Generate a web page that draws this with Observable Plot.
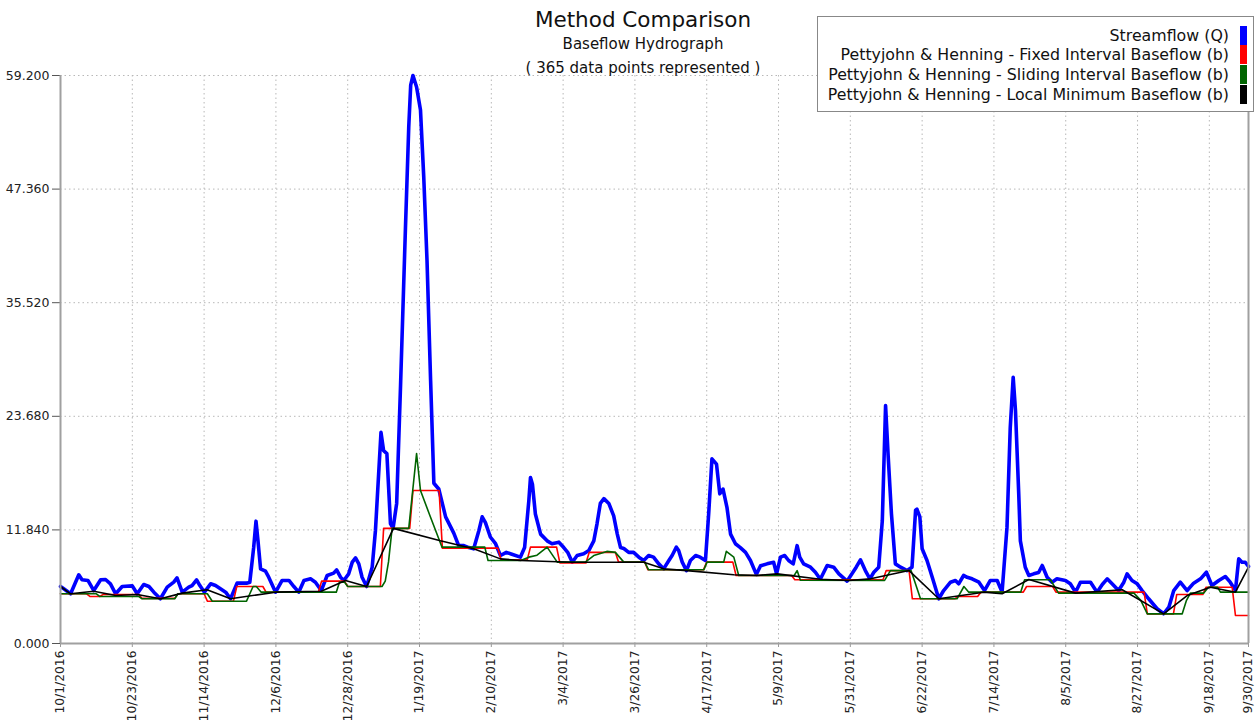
<!DOCTYPE html>
<html><head><meta charset="utf-8">
<script src="https://cdn.jsdelivr.net/npm/d3@7"></script>
<script src="https://cdn.jsdelivr.net/npm/@observablehq/plot@0.6"></script>
<style>
body{margin:0;background:#fff;font-family:"DejaVu Sans",sans-serif;}
#wrap{position:relative;width:1259px;height:720px;overflow:hidden;}
.t{position:absolute;left:0;width:1286px;text-align:center;color:#111;white-space:pre;line-height:1;}
#legend{position:absolute;left:817px;top:16px;width:437px;height:96px;border:1px solid #888;background:#fff;box-sizing:border-box;}
.row{position:absolute;right:0;height:20px;display:flex;align-items:center;}
.row span{font-size:15.8px;color:#111;margin-right:11px;white-space:nowrap;}
.row i{display:block;width:7px;height:19px;margin-right:6px;}
</style></head><body>
<div id="wrap"></div>
<script>
// ---- data (days since 10/1/2016) ----
const title = "Method Comparison";
const subtitle = "Baseflow Hydrograph";
const note = "( 365 data points represented )";
const seriesNames = ["Streamflow (Q)",
  "Pettyjohn & Henning - Fixed Interval Baseflow (b)",
  "Pettyjohn & Henning - Sliding Interval Baseflow (b)",
  "Pettyjohn & Henning - Local Minimum Baseflow (b)"];
const seriesColors = ["#0000ff", "#ff0000", "#006400", "#000000"];

const yTicks = [0, 11.84, 23.68, 35.52, 47.36, 59.2];
const xTickDays = [0, 22, 44, 66, 88, 110, 132, 154, 176, 198, 220, 242, 264, 286, 308, 330, 352, 364];
const xTickLabels = ["10/1/2016", "10/23/2016", "11/14/2016", "12/6/2016", "12/28/2016", "1/19/2017",
  "2/10/2017", "3/4/2017", "3/26/2017", "4/17/2017", "5/9/2017", "5/31/2017", "6/22/2017",
  "7/14/2017", "8/5/2017", "8/27/2017", "9/18/2017", "9/30/2017"];

const qDay = [0, 1, 3.1, 5.6, 6.6, 8.4, 10.2, 12.3, 13.8, 15.3, 16.9, 18.9, 22, 23.5, 25.5, 27.1, 28.6, 30.6,
  32.7, 34.7, 35.7, 37.3, 39.3, 40.3, 41.7, 42.7, 44.1, 46, 47.5, 49, 50.6, 52.1, 54.1, 57.2, 58, 59.2, 59.9,
  60.5, 61.3, 62.8, 63.8, 65.9, 67.9, 70, 71.5, 73, 74.6, 76.6, 78.1, 79.9, 81.7, 83.7, 84.6, 85.8, 86.8,
  88.3, 89.4, 90.4, 91.4, 92.4, 93.8, 95.5, 96.5, 98.2, 99, 100, 101.1, 101.9, 103, 104.2, 105.7, 106.7,
  107.3, 108, 109.1, 110.3, 111.3, 112.3, 113.4, 114.4, 115.9, 118, 120.5, 122, 123.6, 125.1, 126.6, 128.2,
  129.2, 130.2, 131.7, 133.3, 134.8, 136.6, 138.3, 140.9, 142.2, 143.5, 144, 144.6, 145.5, 147.1, 149.1,
  150.6, 152.7, 154.2, 155.4, 156.8, 158.3, 160.3, 161.9, 163.4, 164.4, 165.4, 166.5, 168, 169.5, 170.6,
  171.6, 172.6, 174.1, 175.6, 177.2, 178.7, 180.2, 181.7, 183.3, 184.8, 186.4, 187.4, 188.7, 189.4, 190.5,
  191.8, 193, 194.6, 196, 197.6, 198.6, 199.6, 201, 202, 203, 204.2, 205.3, 206.8, 208.3, 209.9, 211.4,
  213.2, 214.5, 216.5, 218.5, 219.4, 220.6, 221.9, 223.1, 224.5, 225.7, 226.5, 227.7, 229.8, 231.3, 232.8,
  234.9, 236.9, 238.5, 241, 242.5, 243.8, 245.1, 246.6, 248, 249.2, 250.7, 251.8, 252.8, 253.6, 254.6,
  255.8, 257.4, 259.4, 260.9, 262, 262.4, 263.3, 264, 265.5, 267.1, 269.1, 270.6, 272.7, 274.2, 275.2,
  276.7, 277.8, 279.3, 281.4, 283.1, 284.9, 287, 288.5, 290, 291, 291.9, 292.6, 293.6, 294.1, 295.6, 296.7,
  298.2, 299.7, 300.8, 302.3, 303.8, 305.3, 307.9, 309.4, 311, 312.5, 315.6, 317.6, 319.2, 320.7, 322.2,
  324.2, 325.8, 326.8, 328.3, 329.9, 331.4, 333.4, 336, 338, 339.6, 341.1, 343.1, 345.2, 347.2, 349.3,
  351.1, 352.8, 354.9, 356.9, 358.4, 360, 361, 362, 363, 364];
const qVal = [5.94, 5.7, 5.18, 7.16, 6.64, 6.57, 5.52, 6.64, 6.67, 6.22, 5.18, 5.94, 6.01, 5.18, 6.15, 5.94,
  5.35, 4.66, 5.87, 6.39, 6.84, 5.35, 5.87, 6.04, 6.64, 6.04, 5.35, 6.22, 6.04, 5.7, 5.35, 4.66, 6.29, 6.29,
  6.39, 10.04, 12.75, 10.73, 7.78, 7.54, 6.91, 5.35, 6.57, 6.57, 5.94, 5.35, 6.57, 6.74, 6.39, 5.52, 7.09,
  7.33, 7.68, 6.91, 6.57, 7.26, 8.48, 8.93, 8.3, 6.91, 5.94, 7.96, 11.78, 22.0, 20.1, 19.8, 12.5, 12.0, 14.6,
  27.0, 43.4, 53.8, 58.2, 59.2, 58.0, 55.6, 48.6, 39.9, 27.4, 16.7, 16.1, 13.2, 11.5, 10.2, 10.2, 10.0,
  9.87, 11.78, 13.2, 12.6, 11.1, 10.4, 9.17, 9.5, 9.3, 9.0, 10.0, 14.9, 17.3, 16.6, 13.5, 11.4, 10.7, 10.4,
  10.56, 10.0, 9.5, 8.47, 9.17, 9.35, 9.7, 10.7, 12.5, 14.6, 15.1, 14.6, 13.3, 11.4, 10.0, 9.9, 9.5, 9.5,
  9.0, 8.65, 9.17, 9.0, 8.3, 7.78, 8.65, 9.17, 10.04, 9.7, 8.48, 7.6, 8.65, 9.17, 9.0, 8.65, 13.5, 19.25,
  18.7, 15.6, 16.1, 14.2, 11.4, 10.4, 10.0, 9.5, 8.65, 7.2, 8.1, 8.3, 8.47, 7.26, 9.0, 9.17, 8.65, 8.3,
  10.2, 9.0, 8.3, 7.95, 7.43, 6.7, 8.13, 7.95, 7.26, 6.5, 7.26, 7.95, 8.72, 7.6, 6.74, 7.43, 7.95, 12.8,
  24.8, 19.5, 13.5, 8.3, 7.95, 7.6, 7.95, 13.9, 14.0, 13.2, 9.87, 8.65, 6.91, 4.66, 5.52, 6.39, 6.57, 6.22,
  7.09, 6.9, 6.74, 6.39, 5.52, 6.57, 6.57, 5.35, 12.1, 22.5, 27.75, 24.3, 15.6, 10.7, 7.95, 7.09, 7.26, 7.4,
  8.13, 6.91, 6.39, 6.74, 6.57, 6.22, 5.35, 6.39, 6.39, 5.35, 6.15, 6.74, 6.22, 5.52, 6.39, 7.26, 6.57,
  6.22, 5.52, 4.66, 3.62, 3.1, 3.79, 5.52, 6.39, 5.52, 6.29, 6.74, 7.43, 6.04, 6.57, 6.98, 6.39, 5.52,
  8.82, 8.47, 8.47, 8.03];

const fixDay = [0, 8, 9, 12, 13, 24, 25, 35, 36, 44, 45, 53, 54, 62, 63, 79, 80, 87, 88, 98, 99, 107, 108,
  116, 117, 134, 135, 143, 144, 152, 153, 161, 162, 170, 171, 179, 180, 197, 198, 206, 207, 224, 225, 252,
  253, 260, 261, 274, 275, 281, 282, 295, 296, 304, 305, 332, 333, 341, 342, 350, 351, 359, 360, 364];
const fixVal = [5.18, 5.18, 4.9, 4.9, 5.1, 5.1, 4.7, 4.7, 5.18, 5.18, 4.41, 4.41, 5.94, 5.94, 5.35, 5.35,
  6.5, 6.5, 5.94, 5.94, 12.0, 12.0, 15.95, 15.95, 9.94, 9.94, 8.72, 8.72, 10.04, 10.04, 8.4, 8.4, 9.5, 9.5,
  8.48, 8.48, 7.68, 7.68, 8.48, 8.48, 7.09, 7.09, 6.64, 6.64, 7.6, 7.6, 4.66, 4.66, 4.9, 4.9, 5.35, 5.35,
  5.94, 5.94, 5.35, 5.35, 3.09, 3.09, 5.1, 5.1, 5.87, 5.87, 2.92, 2.92];

const slideDay = [0, 11, 12, 24, 25, 35, 36, 45, 46.5, 57, 59, 60, 61.5, 84.5, 85.5, 87, 88, 98.5, 99.5,
  100.5, 101.6, 106.7, 109.1, 110.3, 113, 116.9, 130, 131, 141, 143.5, 146, 149.1, 152.2, 160.8, 163.4,
  167.4, 170, 172.6, 179, 180.2, 197.1, 198.1, 203.2, 204, 206.3, 207.8, 224.8, 225.7, 226.7, 252.5, 254.3,
  260.6, 263.5, 274.7, 276.8, 278.3, 294.2, 295.4, 303.3, 305.8, 328.9, 331, 333, 343.7, 345, 346.2, 350.3,
  351.7, 354.5, 355.4, 364];
const slideVal = [5.18, 5.18, 4.9, 4.9, 4.66, 4.66, 5.18, 5.18, 4.41, 4.41, 5.94, 5.94, 5.35, 5.35, 6.4,
  6.4, 5.94, 5.94, 6.5, 8.5, 12.0, 12.0, 19.8, 15.95, 13.5, 10.04, 10.04, 8.65, 8.65, 9.0, 9.2, 10.04, 8.48,
  8.48, 9.17, 9.6, 9.5, 8.48, 8.48, 7.68, 7.68, 8.48, 8.48, 9.6, 9.0, 7.09, 7.09, 7.6, 6.6, 6.57, 7.6, 7.6,
  4.66, 4.66, 5.94, 5.35, 5.35, 6.64, 6.64, 5.25, 5.25, 4.5, 3.09, 3.09, 4.5, 5.25, 5.25, 5.87, 5.87, 5.35,
  5.35];

const minDay = [0, 3.1, 10.2, 16.9, 23.5, 30.6, 37.3, 44.9, 52.1, 65.9, 79.9, 87.3, 93.8, 102, 116.4, 126.6,
  134.8, 140.9, 156.8, 178.7, 184.8, 191.9, 206.3, 213.4, 219.6, 232.8, 241.5, 248.2, 260, 269.1, 282.9,
  288.5, 296.7, 311, 325.3, 338, 345.2, 352.3, 360, 364];
const minVal = [5.94, 5.18, 5.45, 5.0, 5.1, 4.66, 5.25, 5.6, 4.66, 5.35, 5.45, 6.57, 5.94, 12.0, 10.7, 9.87,
  8.82, 8.65, 8.47, 8.47, 7.78, 7.6, 7.16, 7.09, 7.26, 6.7, 6.57, 6.74, 7.6, 4.66, 5.35, 5.18, 6.67, 5.25,
  5.6, 3.09, 5.0, 5.87, 5.35, 7.96];

// ---- build ----
const seriesDays = [qDay, fixDay, slideDay, minDay];
const seriesVals = [qVal, fixVal, slideVal, minVal];
const widths = [3.6, 1.6, 1.6, 1.6];

const wrap = document.getElementById("wrap");
const gridStyle = {stroke: "#b8b8b8", strokeOpacity: 1, strokeDasharray: "1.5,3", strokeWidth: 1};
const lineMarks = seriesDays.map((days, k) =>
  Plot.line(days.map((d, i) => ({d, v: seriesVals[k][i]})),
    {x: "d", y: "v", stroke: seriesColors[k], strokeWidth: widths[k], strokeLinejoin: "round", strokeLinecap: "round"}));

const chart = Plot.plot({
  width: 1259, height: 720,
  marginTop: 75, marginLeft: 60, marginRight: 11, marginBottom: 77,
  style: {fontFamily: "DejaVu Sans", fontSize: "12px", color: "#222", background: "#fff"},
  x: {type: "linear", domain: [0, 364]},
  y: {domain: [0, 59.2]},
  marks: [
    Plot.gridY(yTicks.slice(1), gridStyle),
    Plot.gridX(xTickDays.slice(1, -1), gridStyle),
    Plot.axisY(yTicks, {tickFormat: d => d.toFixed(3), tickSize: 8, tickPadding: 3, stroke: "#555", label: null, fontSize: 12.5}),
    Plot.axisX(xTickDays, {tickFormat: d => xTickLabels[xTickDays.indexOf(d)], tickRotate: -90, tickSize: 4, tickPadding: 3, stroke: "#999", label: null, fontSize: 12.3}),
    ...lineMarks,
    Plot.ruleX([0], {stroke: "#a0a0a0", strokeWidth: 2}),
    Plot.ruleX([364], {stroke: "#a0a0a0", strokeWidth: 2}),
    Plot.ruleY([0], {stroke: "#a0a0a0", strokeWidth: 2})
  ]
});
wrap.appendChild(chart);

function addText(txt, top, size) {
  const el = document.createElement("div");
  el.className = "t"; el.textContent = txt;
  el.style.top = top + "px"; el.style.fontSize = size + "px";
  wrap.appendChild(el);
}
addText(title, 9, 21.5);
addText(subtitle, 37, 15);
addText(note, 61, 15);

const legend = document.createElement("div");
legend.id = "legend";
seriesNames.forEach((name, k) => {
  const row = document.createElement("div");
  row.className = "row";
  row.style.top = (8 + k * 19.8) + "px";
  const s = document.createElement("span"); s.textContent = name;
  const sw = document.createElement("i"); sw.style.background = seriesColors[k];
  row.appendChild(s); row.appendChild(sw);
  legend.appendChild(row);
});
wrap.appendChild(legend);
</script>
</body></html>
